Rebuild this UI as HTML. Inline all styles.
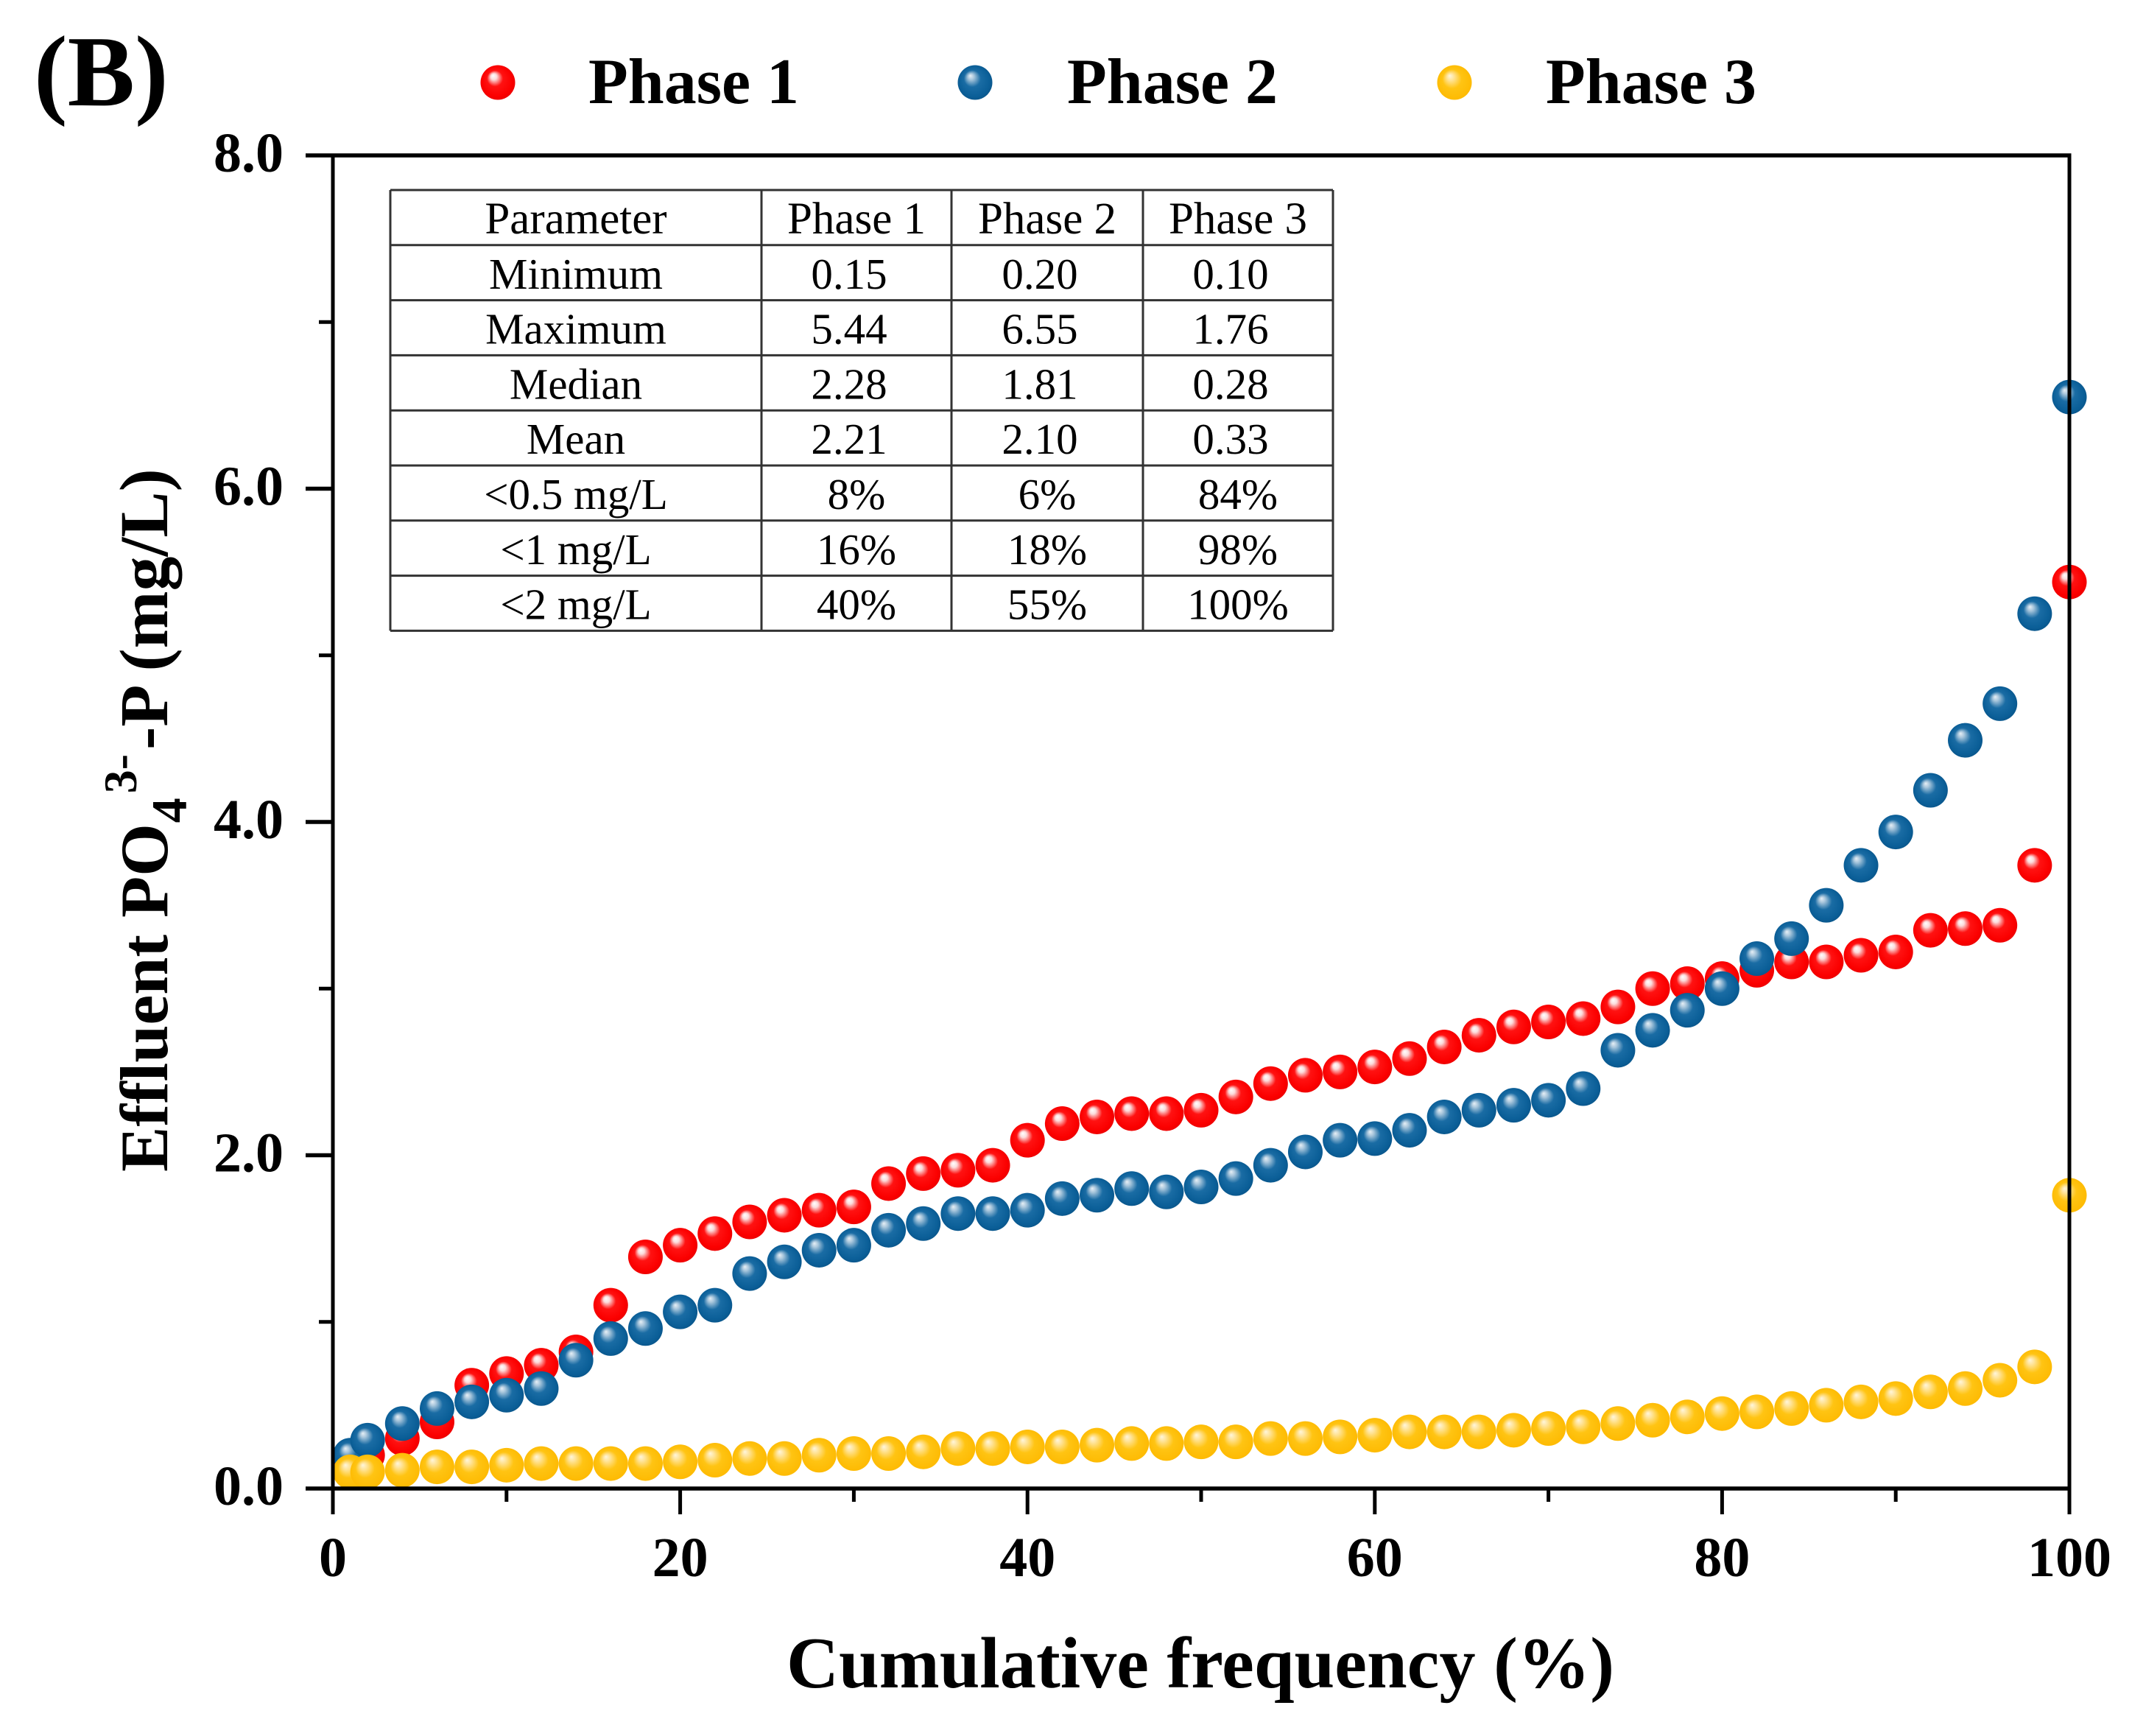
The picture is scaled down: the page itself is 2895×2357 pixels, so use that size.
<!DOCTYPE html>
<html lang="en">
<head>
<meta charset="utf-8">
<title>Effluent PO4 cumulative frequency</title>
<style>
html,body{margin:0;padding:0;background:#fff;}
svg{display:block;}
text{font-family:"Liberation Serif",serif;fill:#000;font-variant-ligatures:none;font-feature-settings:"liga" 0;}
.b{font-weight:bold;}
</style>
</head>
<body>
<svg id="chart" xmlns="http://www.w3.org/2000/svg" width="2895" height="2357" viewBox="0 0 2895 2357">
<defs>
<radialGradient id="g-red" cx="50%" cy="50%" r="55%" fx="36%" fy="30%">
<stop offset="0" stop-color="#fff"/><stop offset="0.16" stop-color="#fcdcdc"/><stop offset="0.42" stop-color="#ff1212"/><stop offset="0.8" stop-color="#fb0000"/><stop offset="1" stop-color="#e80000"/>
</radialGradient>
<radialGradient id="g-blue" cx="50%" cy="50%" r="55%" fx="36%" fy="30%">
<stop offset="0" stop-color="#e8f0f6"/><stop offset="0.16" stop-color="#a8c6dc"/><stop offset="0.44" stop-color="#1a6ca4"/><stop offset="0.8" stop-color="#0b5f98"/><stop offset="1" stop-color="#0a5488"/>
</radialGradient>
<radialGradient id="g-yellow" cx="50%" cy="50%" r="55%" fx="36%" fy="30%">
<stop offset="0" stop-color="#fff6dc"/><stop offset="0.18" stop-color="#ffe49a"/><stop offset="0.5" stop-color="#ffc413"/><stop offset="1" stop-color="#fdb900"/>
</radialGradient>
</defs>
<text class="b" x="46" y="143" font-size="137">(B)</text>
<g id="legend">
<circle cx="676" cy="112" r="23.5" fill="url(#g-red)"/>
<text class="b" x="799" y="140" font-size="88">Phase 1</text>
<circle cx="1324" cy="112" r="23.5" fill="url(#g-blue)"/>
<text class="b" x="1449" y="140" font-size="88">Phase 2</text>
<circle cx="1975" cy="112" r="23.5" fill="url(#g-yellow)"/>
<text class="b" x="2099" y="140" font-size="88">Phase 3</text>
</g>
<g id="marks"></g>
<g id="axes"></g>
<g id="stats"></g>
<text class="b" x="1630" y="2291" font-size="98.4" text-anchor="middle">Cumulative frequency (%)</text>
<text class="b" transform="translate(227,1591) rotate(-90)" font-size="92">Effluent PO<tspan font-size="68" dx="1" dy="26">4</tspan><tspan font-size="64" dx="6" dy="-68">3-</tspan><tspan font-size="93.5" dx="6" dy="42">-P (mg/L)</tspan></text>
</svg>
<script>
const frequencies = [1,2,4,6,8,10,12,14,16,18,20,22,24,26,28,30,32,34,36,38,40,42,44,46,48,50,52,54,56,58,60,62,64,66,68,70,72,74,76,78,80,82,84,86,88,90,92,94,96,98,100];
const phase1 = [0.15,0.2,0.3,0.4,0.62,0.69,0.74,0.82,1.1,1.39,1.46,1.53,1.6,1.64,1.67,1.69,1.83,1.89,1.91,1.94,2.09,2.19,2.23,2.25,2.25,2.27,2.35,2.43,2.48,2.5,2.53,2.58,2.65,2.72,2.77,2.8,2.82,2.89,3.0,3.03,3.06,3.11,3.16,3.16,3.2,3.22,3.35,3.36,3.38,3.74,5.44];
const phase2 = [0.2,0.29,0.39,0.48,0.52,0.56,0.6,0.77,0.9,0.96,1.06,1.1,1.29,1.36,1.43,1.46,1.55,1.59,1.65,1.65,1.67,1.74,1.76,1.8,1.78,1.81,1.86,1.94,2.02,2.09,2.1,2.15,2.23,2.27,2.3,2.33,2.4,2.63,2.75,2.87,3.0,3.18,3.3,3.5,3.74,3.94,4.19,4.49,4.71,5.25,6.55];
const phase3 = [0.1,0.1,0.11,0.13,0.13,0.14,0.15,0.15,0.15,0.15,0.16,0.17,0.18,0.18,0.2,0.21,0.21,0.22,0.24,0.24,0.25,0.25,0.26,0.27,0.27,0.28,0.28,0.3,0.3,0.31,0.32,0.34,0.34,0.34,0.35,0.36,0.37,0.39,0.41,0.43,0.45,0.46,0.48,0.5,0.52,0.54,0.58,0.6,0.65,0.73,1.76];
const xMajorTicks = [0,20,40,60,80,100];
const xMinorTicks = [10,30,50,70,90];
const yMajorTicks = [0,2,4,6,8];
const yMinorTicks = [1,3,5,7];
const tableHeader = ["Parameter","Phase 1","Phase 2","Phase 3"];
const tableRows = [
  ["Minimum","0.15","0.20","0.10"],
  ["Maximum","5.44","6.55","1.76"],
  ["Median","2.28","1.81","0.28"],
  ["Mean","2.21","2.10","0.33"],
  ["<0.5 mg/L","8%","6%","84%"],
  ["<1 mg/L","16%","18%","98%"],
  ["<2 mg/L","40%","55%","100%"]
];

const NS = "http://www.w3.org/2000/svg";
const plot = {left:452, right:2810, top:211, bottom:2021};
function xScale(v){ return plot.left + (v/100)*(plot.right-plot.left); }
function yScale(v){ return plot.bottom - (v/8)*(plot.bottom-plot.top); }
function mk(tag, attrs, parent){
  const el = document.createElementNS(NS, tag);
  for (const k in attrs) el.setAttribute(k, attrs[k]);
  parent.appendChild(el);
  return el;
}

const marks = document.getElementById("marks");
function drawSeries(values, fill, seriesName){
  values.forEach(function(v, i){
    const c = mk("circle", {cx:xScale(frequencies[i]), cy:yScale(v), r:23.5, fill:fill}, marks);
    
    
  });
}
drawSeries(phase1, "url(#g-red)", "phase-1");
drawSeries(phase2, "url(#g-blue)", "phase-2");
drawSeries(phase3, "url(#g-yellow)", "phase-3");

const axes = document.getElementById("axes");
function line(x1,y1,x2,y2,w,name){
  const l = mk("line", {x1:x1,y1:y1,x2:x2,y2:y2,stroke:"#000","stroke-width":w}, axes);
  
  
}
line(plot.left, plot.bottom, plot.right+2.5, plot.bottom, 5.5, 'x-axis-line');
line(plot.left, plot.top, plot.right+2.5, plot.top, 5.5, 'top-border');
line(plot.left, plot.top, plot.left, plot.bottom, 5, 'y-axis-line');
line(plot.right, plot.top, plot.right, plot.bottom, 5, 'right-border');
xMajorTicks.forEach(function(t){
  line(xScale(t), plot.bottom, xScale(t), plot.bottom+35, 5, 'x-major-tick');
  const lb = mk("text", {x:xScale(t), y:2140, "font-size":76, "text-anchor":"middle", class:"b"}, axes);
  
  
  lb.textContent = String(t);
});
xMinorTicks.forEach(function(t){
  line(xScale(t), plot.bottom, xScale(t), plot.bottom+18, 5, 'x-minor-tick');
});
yMajorTicks.forEach(function(t){
  line(plot.left-37, yScale(t), plot.left, yScale(t), 5.5, 'y-major-tick');
  const lb = mk("text", {x:385, y:yScale(t)+22, "font-size":76, "text-anchor":"end", class:"b"}, axes);
  
  
  lb.textContent = t.toFixed(1);
});
yMinorTicks.forEach(function(t){
  line(plot.left-19, yScale(t), plot.left, yScale(t), 5, 'y-minor-tick');
});

const stats = document.getElementById("stats");
const colEdges = [530,1034,1292,1552,1810];
const rowTop = 258, rowH = 74.8;
const rowCount = tableRows.length + 1;
function tLine(x1,y1,x2,y2){
  const l = mk("line", {x1:x1,y1:y1,x2:x2,y2:y2,stroke:"#333","stroke-width":3}, stats);
  
  
}
for (let r = 0; r <= rowCount; r++) tLine(colEdges[0], rowTop+r*rowH, colEdges[4], rowTop+r*rowH);
colEdges.forEach(function(x){ tLine(x, rowTop, x, rowTop+rowCount*rowH); });
function cell(str, col, row, off, size){
  const cx = (colEdges[col]+colEdges[col+1])/2 + off;
  const t = mk("text", {x:cx, y:rowTop+row*rowH+59, "font-size":size, "text-anchor":"middle", fill:"#111"}, stats);
  
  
  t.textContent = str;
}
tableHeader.forEach(function(s, c){ cell(s, c, 0, 0, 61); });
tableRows.forEach(function(row, r){
  row.forEach(function(s, c){
    const numeric = c > 0 && s.indexOf("%") < 0;
    cell(s, c, r+1, numeric ? -10 : 0, 59);
  });
});
</script>
</body>
</html>
